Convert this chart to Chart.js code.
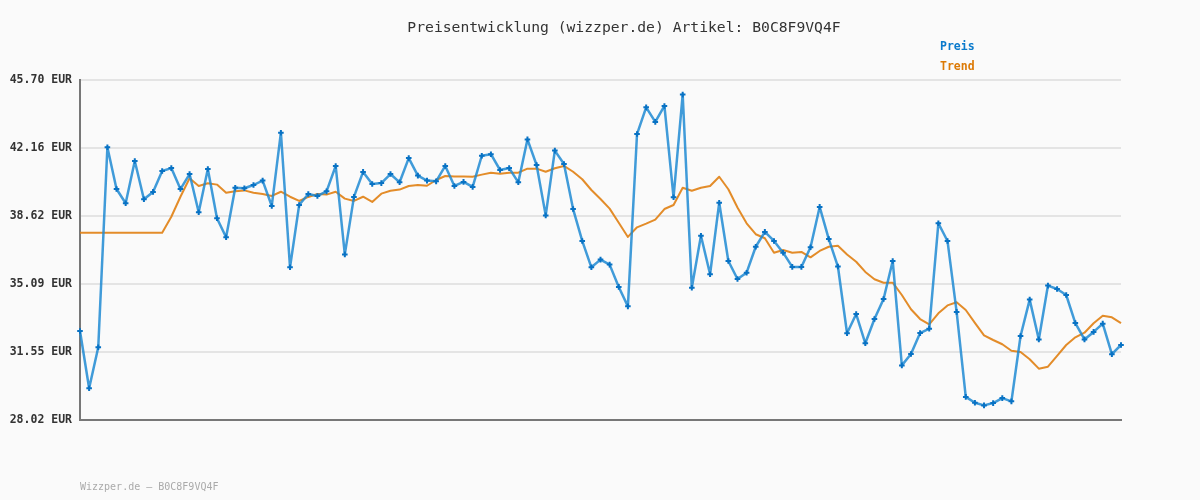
<!DOCTYPE html>
<html>
<head>
<meta charset="utf-8">
<script src="https://cdn.jsdelivr.net/npm/chart.js@4/dist/chart.umd.min.js"></script>
<style>
    html, body { margin: 0; padding: 0; background: #fafafa; }
    #wrap { width: 1200px; height: 500px; position: relative; }
</style>
</head>
<body>
<div id="wrap"><canvas id="preisChart" width="1200" height="500"></canvas></div>
<script>
// Preisdaten
const preis = [
    32.65, 29.67, 31.80, 42.20, 40.03, 39.29, 41.49, 39.50, 39.88, 40.97,
    41.12, 40.03, 40.81, 38.82, 41.07, 38.51, 37.52, 40.10, 40.07, 40.24,
    40.47, 39.15, 42.96, 35.96, 39.20, 39.77, 39.67, 39.91, 41.23, 36.63,
    39.62, 40.92, 40.29, 40.34, 40.81, 40.38, 41.64, 40.73, 40.47, 40.43,
    41.23, 40.19, 40.40, 40.14, 41.76, 41.84, 41.02, 41.12, 40.38, 42.61,
    41.28, 38.66, 42.03, 41.33, 38.99, 37.33, 35.96, 36.36, 36.10, 34.94,
    33.93, 42.89, 44.28, 43.52, 44.35, 39.60, 44.94, 34.90, 37.60, 35.60,
    39.32, 36.29, 35.35, 35.68, 37.03, 37.80, 37.33, 36.72, 35.98, 35.98,
    37.00, 39.10, 37.43, 36.00, 32.53, 33.53, 32.01, 33.27, 34.31, 36.29,
    30.86, 31.45, 32.54, 32.77, 38.25, 37.33, 33.64, 29.22, 28.92, 28.78,
    28.90, 29.16, 28.99, 32.39, 34.28, 32.21, 35.01, 34.83, 34.52, 33.06,
    32.21, 32.60, 33.03, 31.44, 31.92
];

const trend = [
    37.76, 37.76, 37.76, 37.76, 37.76, 37.76, 37.76, 37.76, 37.76, 37.76,
    38.59, 39.63, 40.59, 40.19, 40.33, 40.26, 39.84, 39.91, 39.96, 39.84,
    39.77, 39.67, 39.89, 39.63, 39.41, 39.62, 39.77, 39.74, 39.89, 39.53,
    39.41, 39.63, 39.36, 39.79, 39.94, 40.00, 40.19, 40.24, 40.20, 40.50,
    40.71, 40.68, 40.68, 40.67, 40.78, 40.88, 40.83, 40.88, 40.88, 41.09,
    41.09, 40.93, 41.11, 41.23, 40.93, 40.54, 39.98, 39.51, 39.01, 38.28,
    37.54, 38.04, 38.23, 38.44, 38.99, 39.20, 40.10, 39.94, 40.10, 40.19,
    40.67, 40.02, 39.07, 38.25, 37.68, 37.47, 36.72, 36.86, 36.72, 36.76,
    36.48, 36.81, 37.03, 37.08, 36.63, 36.25, 35.72, 35.34, 35.16, 35.16,
    34.52, 33.78, 33.27, 32.99, 33.57, 33.98, 34.14, 33.74, 33.07, 32.42,
    32.18, 31.96, 31.62, 31.56, 31.18, 30.69, 30.79, 31.36, 31.92, 32.32,
    32.56, 33.05, 33.44, 33.36, 33.06
];

const yTicks = [28.02, 31.55, 35.09, 38.62, 42.16, 45.70];
const labels = preis.map((p, i) => i + 1);

const titel = 'Preisentwicklung (wizzper.de) Artikel: B0C8F9VQ4F';
const fusszeile = 'Wizzper.de \u2013 B0C8F9VQ4F';

const MONO = '"DejaVu Sans Mono", "Liberation Mono", monospace';

// Titel, Legende und Fusszeile selbst zeichnen
const textPlugin = {
    id: 'texte',
    beforeDraw(chart) {
        const ctx = chart.ctx;
        ctx.save();
        ctx.fillStyle = '#fafafa';
        ctx.fillRect(0, 0, chart.width, chart.height);
        ctx.restore();
    },
    afterDraw(chart) {
        const ctx = chart.ctx;
        ctx.save();
        ctx.textBaseline = 'middle';
        ctx.font = '14.7px ' + MONO;
        ctx.fillStyle = '#333';
        ctx.textAlign = 'center';
        ctx.fillText(titel, 624, 28);

        ctx.font = 'bold 11.5px ' + MONO;
        ctx.textAlign = 'left';
        chart.data.datasets.forEach((ds, i) => {
            ctx.fillStyle = ds.legendColor;
            ctx.fillText(ds.label, 940, 47 + i * 20);
        });

        ctx.font = '10px ' + MONO;
        ctx.fillStyle = '#aaa';
        ctx.fillText(fusszeile, 80, 487);
        ctx.restore();
    }
};

let ctx = document.getElementById('preisChart').getContext('2d');
let chart = new Chart(ctx, {
    type: 'line',
    data: {
        labels: labels,
        datasets: [{
            label: 'Preis',
            data: preis,
            borderColor: 'rgba(30, 138, 210, 0.85)',
            borderWidth: 2.5,
            borderJoinStyle: 'round',
            pointStyle: 'cross',
            pointRadius: 2.8,
            pointBorderWidth: 2,
            pointBorderColor: '#0872c4',
            pointBackgroundColor: '#0872c4',
            tension: 0,
            order: 1,
            legendColor: '#0a7acc'
        }, {
            label: 'Trend',
            data: trend,
            borderColor: 'rgba(224, 128, 18, 0.9)',
            borderWidth: 2,
            borderJoinStyle: 'round',
            pointRadius: 0,
            tension: 0,
            order: 2,
            legendColor: '#dc7a06'
        }]
    },
    options: {
        responsive: false,
        animation: false,
        layout: {
            padding: { left: 0, right: 79, top: 80, bottom: 0 }
        },
        plugins: {
            legend: { display: false },
            title: { display: false },
            tooltip: { enabled: false }
        },
        scales: {
            x: {
                offset: false,
                ticks: { display: false },
                grid: { display: false, drawTicks: false },
                border: { color: '#777', width: 2 },
                afterFit(scale) { scale.height = 80; }
            },
            y: {
                min: 28.02,
                max: 45.70,
                afterBuildTicks(scale) {
                    scale.ticks = yTicks.map(v => ({ value: v }));
                },
                afterFit(scale) { scale.width = 80; },
                ticks: {
                    padding: 8,
                    color: '#333',
                    font: { family: MONO, size: 11.5, weight: 'bold' },
                    callback: v => v.toFixed(2) + ' EUR'
                },
                grid: { color: '#e4e4e4', lineWidth: 2, drawTicks: false },
                border: { color: '#777', width: 2 }
            }
        }
    },
    plugins: [textPlugin]
});
</script>
</body>
</html>
